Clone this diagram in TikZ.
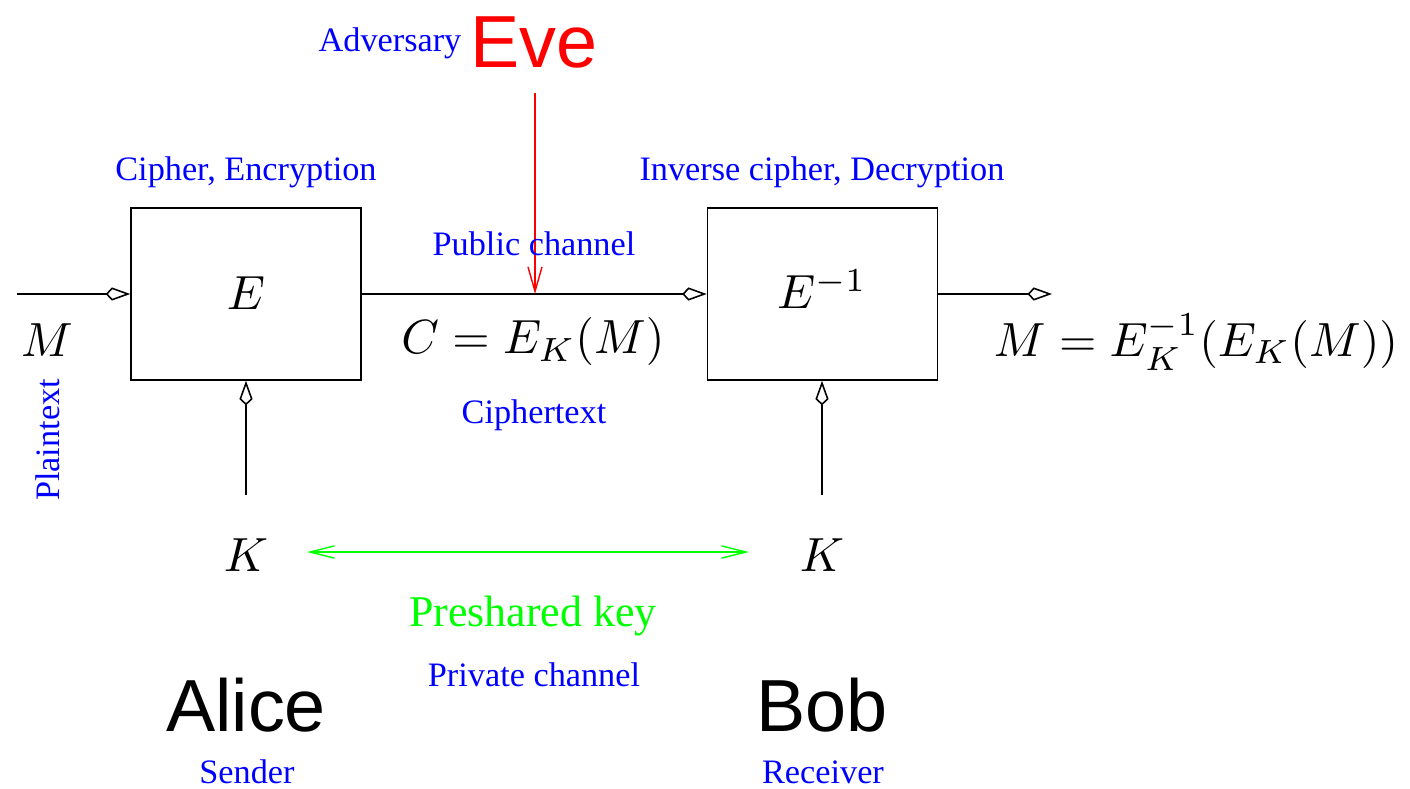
\documentclass[tikz,border=0pt]{standalone}
\usepackage{graphicx}
\usepackage{fontspec}
\setmainfont{Liberation Serif}
\setsansfont{Liberation Sans}
\usetikzlibrary{arrows.meta}
\definecolor{pblue}{RGB}{0,0,255}
\definecolor{pgreen}{RGB}{0,255,0}
\definecolor{pred}{RGB}{255,0,0}
\newcommand{\bigmath}[1]{\scalebox{2.73}{\fontsize{10}{12}\selectfont$#1$}}
\tikzset{
  lbl/.style={text=pblue, font=\fontsize{19.5}{22}\selectfont, inner sep=0pt},
  mathlbl/.style={inner sep=0pt},
  big/.style={font=\sffamily\fontsize{42}{48}\selectfont, inner sep=0pt},
  blk/.style={draw, line width=0.9pt, minimum width=230*0.02cm, minimum height=172*0.02cm, inner sep=0pt},
  diam/.style={-{Kite[open, length=14pt, width=7.5pt, inset=3.6pt, line width=0.9pt]}, line width=0.9pt},
}
\begin{document}
\begin{tikzpicture}[x=0.02cm, y=-0.02cm]
\useasboundingbox (0,0) rectangle (1410,788);
% boxes
\node[blk] (E) at (246,294) {};
\node[mathlbl] (Elbl) at (246,293) {\bigmath{E}};
\node[blk] (D) at (822.5,294) {};
\node[mathlbl] (Dlbl) at (822,289) {\bigmath{E^{-1}}};
% free ends
\coordinate (in) at (17,294);
\coordinate (out) at (1052,294);
\coordinate (k1) at (246,495);
\coordinate (k2) at (822,495);
\coordinate (evetop) at (535,93);
\coordinate (evebot) at (535,294);
% connectors
\draw[diam] (in) -- (E.west);
\draw[diam] (E.east) -- (D.west);
\draw[diam] (D.east) -- (out);
\draw[diam] (k1) -- (k1 |- E.south);
\draw[diam] (k2) -- (k2 |- D.south);
\draw[pred, line width=0.8pt, -{Straight Barb[length=14pt, width=8pt, line width=0.8pt]}] (evetop) -- (evebot);
% labels
\node[mathlbl] (M) at (47,340) {\bigmath{M}};
\node[lbl, rotate=90] (plain) at (48,440) {Plaintext};
\node[mathlbl] (C) at (533,342) {\bigmath{C=E_K(M)}};
\node[mathlbl] (Mout) at (1196,342) {\bigmath{M=E_K^{-1}(E_K(M))}};
\node[lbl] (ciph) at (246,172) {Cipher, Encryption};
\node[lbl] (inv) at (822,172) {Inverse cipher, Decryption};
\node[lbl] (pub) at (534,244) {Public channel};
\node[lbl] (ctext) at (534,415) {Ciphertext};
\node[lbl] (adv) at (390,43) {Adversary};
\node[big, text=pred] (eve) at (534,42) {Eve};
\node[mathlbl] (K1) at (246,555) {\bigmath{K}};
\node[mathlbl] (K2) at (822,555) {\bigmath{K}};
\coordinate (ga) at (307,552);
\coordinate (gb) at (749,552);
\draw[pgreen, line width=0.8pt, {Straight Barb[length=14pt, width=7pt, line width=0.8pt]}-{Straight Barb[length=14pt, width=7pt, line width=0.8pt]}] (ga) -- (gb);
\node[text=pgreen, font=\fontsize{25}{30}\selectfont, inner sep=0pt] (psk) at (533,616) {Preshared key};
\node[lbl] (priv) at (534,675) {Private channel};
\node[big] (alice) at (246,705) {Alice};
\node[lbl] (sender) at (247,772) {Sender};
\node[big] (bob) at (822,705) {Bob};
\node[lbl] (recv) at (823,772) {Receiver};
\end{tikzpicture}
\end{document}
